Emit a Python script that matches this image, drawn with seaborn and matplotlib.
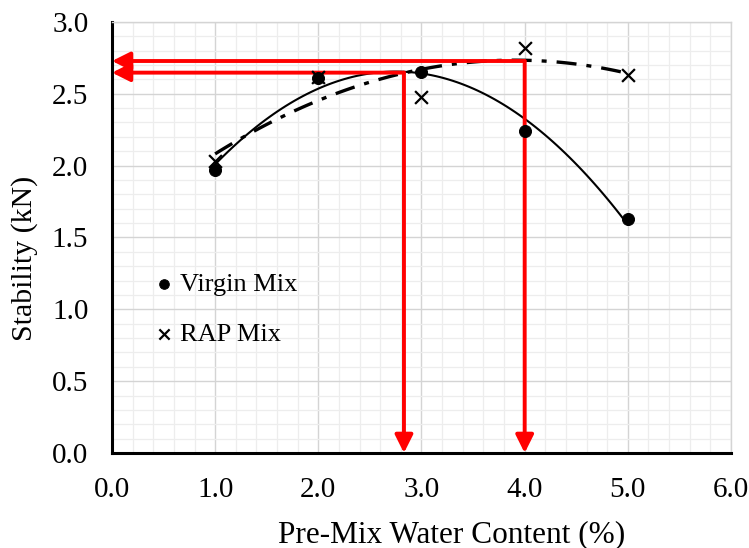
import numpy as np
import pandas as pd
import matplotlib
matplotlib.use("Agg")
import matplotlib.pyplot as plt
import seaborn as sns
from matplotlib.ticker import MultipleLocator, FormatStrFormatter

water = [1.0, 2.0, 3.0, 4.0, 5.0]
virgin = [1.97, 2.61, 2.65, 2.24, 1.63]
rap = [2.03, 2.62, 2.48, 2.82, 2.63]
opt_water = [2.83, 4.0]
opt_stab = [2.647, 2.728]

sns.set_theme(style="white")
plt.rcParams['font.family'] = ['Liberation Serif', 'DejaVu Serif']
plt.rcParams['mathtext.fontset'] = 'stix'
plt.rcParams['text.color'] = 'black'
plt.rcParams['axes.labelcolor'] = 'black'
plt.rcParams['xtick.color'] = 'black'
plt.rcParams['ytick.color'] = 'black'

fig = plt.figure(figsize=(7.49, 5.48), dpi=100)
ax = fig.add_axes([0.1495, 0.1734, 0.8265, 0.7866])

df_v = pd.DataFrame({"x": water, "y": virgin})
df_r = pd.DataFrame({"x": water, "y": rap})

# grid
ax.set_xlim(0, 6)
ax.set_ylim(0, 3)
ax.xaxis.set_major_locator(MultipleLocator(1.0))
ax.xaxis.set_minor_locator(MultipleLocator(0.2))
ax.yaxis.set_major_locator(MultipleLocator(0.5))
ax.yaxis.set_minor_locator(MultipleLocator(0.1))
ax.grid(which='major', color='#d4d4d4', lw=1.0, zorder=0)
ax.grid(which='minor', color='#ededed', lw=0.9, zorder=0)
ax.set_axisbelow(True)

# fitted curves
sns.regplot(data=df_v, x="x", y="y", order=2, ci=None, scatter=False, truncate=True,
            ax=ax, line_kws=dict(color='black', lw=1.5, zorder=3))
sns.regplot(data=df_r, x="x", y="y", order=2, ci=None, scatter=False, truncate=True,
            ax=ax, line_kws=dict(color='black', lw=2.4, dashes=(6, 3, 1.5, 3), zorder=3))

# red arrows
for xo, yo in zip(opt_water, opt_stab):
    ax.annotate("", xy=(0, yo), xytext=(xo, yo),
                arrowprops=dict(arrowstyle='-|>,head_length=0.9,head_width=0.45', color='#ff0000',
                                lw=2.8, shrinkA=0, shrinkB=0), zorder=4)
    ax.annotate("", xy=(xo, 0), xytext=(xo, yo),
                arrowprops=dict(arrowstyle='-|>,head_length=0.9,head_width=0.45', color='#ff0000',
                                lw=2.8, shrinkA=0, shrinkB=0), zorder=4)

# points
sns.scatterplot(data=df_v, x="x", y="y", marker='o', s=75, color='black',
                edgecolor='black', ax=ax, zorder=5, label='Virgin Mix')
sns.scatterplot(data=df_r, x="x", y="y", marker='x', s=85, color='black',
                linewidth=1.6, ax=ax, zorder=5, label='RAP Mix')

leg = ax.legend(loc='upper left', bbox_to_anchor=(0.02, 0.473), frameon=False,
                fontsize=19, handletextpad=0.0, handlelength=1.2, labelspacing=1.0,
                markerscale=0.8)

ax.xaxis.set_major_formatter(FormatStrFormatter('%.1f'))
ax.yaxis.set_major_formatter(FormatStrFormatter('%.1f'))
ax.tick_params(which='major', direction='in', length=7, width=2, labelsize=21,
               color='black', labelcolor='black')
ax.tick_params(which='minor', length=0)
ax.tick_params(axis='x', pad=17)
ax.tick_params(axis='y', pad=17)
ax.set_xlabel("Pre-Mix Water Content (%)", fontsize=22.5, va='center', color='black')
ax.set_ylabel("Stability (kN)", fontsize=21.5, va='center', color='black')
ax.xaxis.set_label_coords(0.549, -0.19)
ax.yaxis.set_label_coords(-0.1405, 0.452)

for s in ['left', 'bottom']:
    ax.spines[s].set_color('black')
    ax.spines[s].set_linewidth(2.2)
for s in ['top', 'right']:
    ax.spines[s].set_color('#d4d4d4')
    ax.spines[s].set_linewidth(1.0)

fig.savefig("out.png", dpi=100)
